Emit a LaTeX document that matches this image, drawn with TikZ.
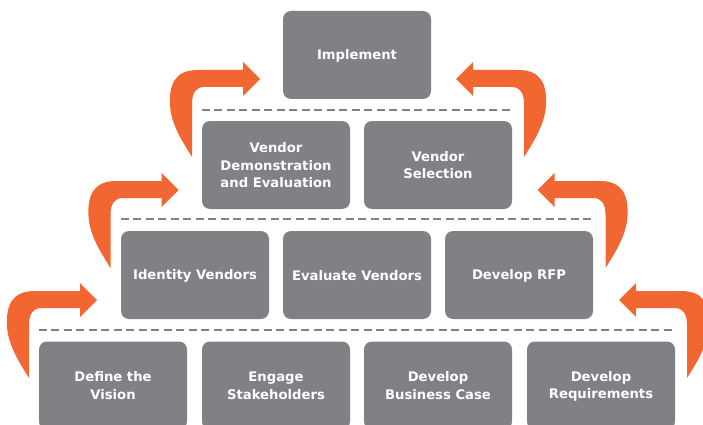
\documentclass[tikz,border=0pt]{standalone}
\usepackage{fontspec}
\setmainfont{DejaVu Sans}
\definecolor{boxgray}{HTML}{808185}
\definecolor{arrorange}{HTML}{F26631}
\newcommand{\ls}{\rule[-2pt]{0pt}{14pt}}
\tikzset{
  stepbox/.style={draw=none, fill=boxgray, rounded corners=8pt, minimum width=148pt, minimum height=88pt,
    text=white, align=center, inner sep=0pt, font=\fontsize{13.2}{17.5}\selectfont\bfseries},
  sepline/.style={draw=boxgray, line width=2.2pt, dash pattern=on 8pt off 4.5pt},
  bentarrow/.style={fill=arrorange, draw=none}
}
\newcommand{\bentarrowpath}{(0,0) -- (-17,-17) -- (-17,-9) -- (-62,-9) .. controls (-85,-9) and (-91,5) .. (-90,26) .. controls (-89,45) and (-78,62) .. (-68,78) -- (-68,25) .. controls (-68,14) and (-64,8) .. (-56,8) -- (-17,8) -- (-17,17) -- cycle}
\begin{document}
\begin{tikzpicture}[x=1pt,y=-1pt]
\useasboundingbox (0,0) rectangle (703,425);
\begin{scope}
\clip (0,0) rectangle (703,425);
% row 1 (bottom)
\node[stepbox] (b1) at (113,385.5) {\ls Define the\\\ls Vision};
\node[stepbox] (b2) at (276,385.5) {\ls Engage\\\ls Stakeholders};
\node[stepbox] (b3) at (438,385.5) {\ls Develop\\\ls Business Case};
\node[stepbox] (b4) at (601,385.5) {\ls Develop\\\ls Requirements};
% row 2
\node[stepbox] (c1) at (195,275) {\ls Identity Vendors};
\node[stepbox] (c2) at (357,275) {\ls Evaluate Vendors};
\node[stepbox] (c3) at (519,275) {\ls Develop RFP};
% row 3
\node[stepbox] (d1) at (276,165) {\ls Vendor\\\ls Demonstration\\\ls and Evaluation};
\node[stepbox] (d2) at (438,165) {\ls Vendor\\\ls Selection};
% row 4
\node[stepbox] (e1) at (357,55) {\ls Implement};
\end{scope}
% separators
\draw[sepline] (b1.west |- 0,330) -- (b4.east |- 0,330);
\draw[sepline] (c1.west |- 0,219) -- (c3.east |- 0,219);
\draw[sepline] (d1.west |- 0,110) -- (d2.east |- 0,110);
% left arrows
\begin{scope}[shift={(97,300)}]\fill[bentarrow] \bentarrowpath;\end{scope}
\begin{scope}[shift={(178.5,190)}]\fill[bentarrow] \bentarrowpath;\end{scope}
\begin{scope}[shift={(260,79)}]\fill[bentarrow] \bentarrowpath;\end{scope}
% right arrows
\begin{scope}[shift={(456,79)},xscale=-1]\fill[bentarrow] \bentarrowpath;\end{scope}
\begin{scope}[shift={(537.5,190)},xscale=-1]\fill[bentarrow] \bentarrowpath;\end{scope}
\begin{scope}[shift={(619,300)},xscale=-1]\fill[bentarrow] \bentarrowpath;\end{scope}
\end{tikzpicture}
\end{document}
